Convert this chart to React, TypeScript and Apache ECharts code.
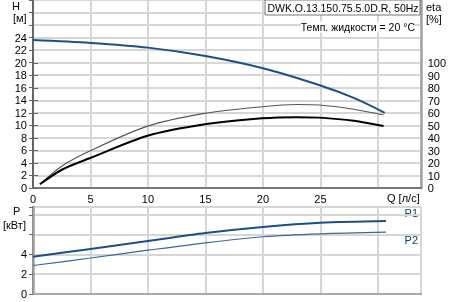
import React, { useEffect, useRef } from "react";
import * as echarts from "echarts";

const titleText = "DWK.O.13.150.75.5.0D.R, 50Hz";
const tempText = "Темп. жидкости = 20 °C";
const xTicks = [0, 5, 10, 15, 20, 25];

// H [m] vs Q [l/s]
const headData: [number, number][] = [
  [0, 23.6], [5, 23.15], [10, 22.4], [15, 21.05], [20, 19.1], [25, 16.35], [28, 14.3], [30.6, 12.0],
];
// efficiency curves [%]
const etaThin: [number, number][] = [
  [0.6, 3], [2.6, 18], [5, 29.8], [10, 49.5], [15, 59.7], [20, 65], [23, 66.8], [25, 66.4], [28, 63], [30.6, 58.4],
];
const etaThick: [number, number][] = [
  [0.6, 3], [2.6, 15], [5, 24], [10, 41.8], [15, 51], [20, 55.8], [23, 56.7], [25, 56.3], [28, 53.8], [30.6, 49.6],
];
// power [kW]
const p1Data: [number, number][] = [
  [0, 3.76], [5, 4.56], [10, 5.36], [15, 6.16], [20, 6.77], [25, 7.2], [30.7, 7.38],
];
const p2Data: [number, number][] = [
  [0, 2.88], [5, 3.64], [10, 4.43], [15, 5.18], [20, 5.79], [25, 6.09], [30.7, 6.26],
];

const FONT = "Liberation Sans, Arial, sans-serif";
const GRID_COLOR = "#d6d6d6";
const BLUE = "#1b4f8a";

export default function App() {
  const ref = useRef<HTMLDivElement>(null);
  useEffect(() => {
    if (!ref.current) return;
    const chart = echarts.init(ref.current, undefined, { renderer: "svg" });
    const lbl = { color: "#000", fontSize: 11, fontFamily: FONT };
    const small = { ...lbl, fontSize: 10.5 };
    const splitLine = { show: true, lineStyle: { color: GRID_COLOR, width: 2 } };
    const xCommon = { type: "value" as const, min: 0, max: 33.75, interval: 5 };
    const curve = { smooth: 0.3, showSymbol: false };
    chart.setOption({
      animation: false,
      textStyle: { fontFamily: FONT },
      grid: [
        { left: 33, right: 28, top: 0, height: 188 },
        { left: 33, right: 28, top: 207, height: 87 },
        { left: 33, right: 28, top: 63, height: 125 },
      ],
      xAxis: [
        {
          ...xCommon, gridIndex: 0,
          axisLine: { show: true, lineStyle: { color: "#777", width: 2 } },
          axisTick: { show: false },
          axisLabel: { ...lbl, margin: 5, formatter: (v: number) => (xTicks.includes(v) ? String(v) : "") },
          splitLine,
        },
        {
          ...xCommon, gridIndex: 1, position: "bottom",
          axisLine: { show: true, lineStyle: { color: "#777", width: 2 } },
          axisTick: { show: false }, axisLabel: { show: false }, splitLine,
        },
        {
          ...xCommon, gridIndex: 1, position: "top",
          axisLine: { show: true, lineStyle: { color: "#aaa", width: 2 } },
          axisTick: { show: false }, axisLabel: { show: false }, splitLine: { show: false },
        },
        {
          ...xCommon, gridIndex: 2, show: false,
        },
      ],
      yAxis: [
        {
          type: "value", gridIndex: 0, min: 0, max: 30, interval: 2,
          axisLine: { show: true, lineStyle: { color: "#666", width: 2 } },
          axisTick: { show: true, inside: false, length: 4, lineStyle: { color: "#666" } },
          axisLabel: { ...lbl, margin: 6, formatter: (v: number) => (v <= 24 ? String(v) : "") },
          splitLine,
        },
        {
          type: "value", gridIndex: 0, min: 0, max: 30, interval: 2, position: "right",
          axisLine: { show: true, lineStyle: { color: "#a0a0a0", width: 2.5 } },
          axisTick: { show: false }, axisLabel: { show: false }, splitLine: { show: false },
        },
        {
          type: "value", gridIndex: 1, min: 0, max: 8.8, interval: 2,
          axisLine: { show: true, lineStyle: { color: "#666", width: 2 } },
          axisTick: { show: true, inside: false, length: 4, lineStyle: { color: "#666" } },
          axisLabel: { ...lbl, margin: 6, formatter: (v: number) => (v <= 4 ? String(v) : "") },
          splitLine,
        },
        {
          type: "value", gridIndex: 1, min: 0, max: 8.8, interval: 2, position: "right",
          axisLine: { show: true, lineStyle: { color: "#a0a0a0", width: 2.5 } },
          axisTick: { show: false }, axisLabel: { show: false }, splitLine: { show: false },
        },
        {
          type: "value", gridIndex: 2, min: 0, max: 100, interval: 10, position: "right",
          axisLine: { show: false },
          axisTick: { show: true, inside: false, length: 5, lineStyle: { color: "#666" } },
          axisLabel: { ...lbl, margin: 8 },
          splitLine: { show: false },
        },
      ],
      series: [
        {
          type: "line", name: "eta2", xAxisIndex: 3, yAxisIndex: 4, data: etaThin, ...curve,
          lineStyle: { color: "#555", width: 1.2 },
        },
        {
          type: "line", name: "eta1", xAxisIndex: 3, yAxisIndex: 4, data: etaThick, ...curve,
          lineStyle: { color: "#000", width: 2 },
        },
        {
          type: "line", name: "H", xAxisIndex: 0, yAxisIndex: 0, data: headData, ...curve,
          lineStyle: { color: BLUE, width: 2 },
        },
        {
          type: "line", name: "P1", xAxisIndex: 1, yAxisIndex: 2, data: p1Data, ...curve,
          lineStyle: { color: BLUE, width: 2 },
        },
        {
          type: "line", name: "P2", xAxisIndex: 1, yAxisIndex: 2, data: p2Data, ...curve,
          lineStyle: { color: "#3a679c", width: 1.2 },
        },
      ],
      graphic: [
        { type: "text", left: 12, top: 0, style: { text: "H", ...lbl, fill: "#000" } },
        { type: "text", left: 13, top: 12, style: { text: "[м]", ...lbl, fill: "#000" } },
        { type: "text", left: 426, top: 1, style: { text: "eta", ...lbl, fill: "#000" } },
        { type: "text", left: 426, top: 13, style: { text: "[%]", ...lbl, fill: "#000" } },
        { type: "text", left: 387, top: 192, style: { text: "Q [л/с]", ...lbl, fill: "#000" } },
        { type: "text", left: 13, top: 205, style: { text: "P", ...lbl, fill: "#000" } },
        { type: "text", left: 3, top: 219, style: { text: "[кВт]", ...lbl, fill: "#000" } },
        { type: "text", right: 31, top: 207, style: { text: "P1", ...lbl, fill: "#1a3d66" } },
        { type: "text", right: 31, top: 234, style: { text: "P2", ...lbl, fill: "#1a3d66" } },
        {
          type: "rect", shape: { x: 265, y: 0, width: 155, height: 15 },
          style: { fill: "#fff", stroke: "#777", lineWidth: 1 }, z: 10,
        },
        {
          type: "text", x: 343, y: 8, z: 11,
          style: { text: titleText, ...small, fill: "#000", align: "center", verticalAlign: "middle" },
        },
        {
          type: "text", x: 415, y: 27, z: 11,
          style: { text: tempText, ...small, fill: "#000", align: "right", verticalAlign: "middle", backgroundColor: "#fff" },
        },
      ],
    });
    return () => chart.dispose();
  }, []);
  return <div ref={ref} style={{ position: "fixed", left: 0, top: 0, width: 449, height: 302 }} />;
}
